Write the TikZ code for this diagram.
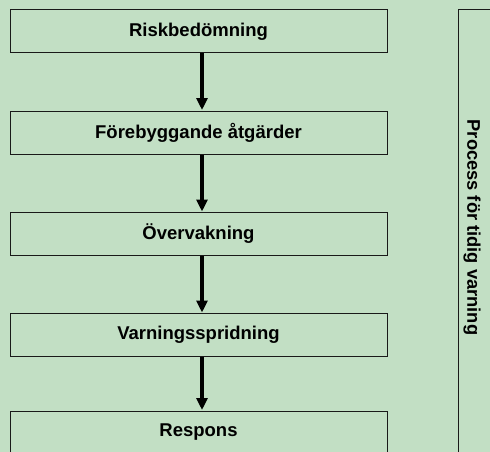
\documentclass[tikz,border=0pt]{standalone}
\usepackage{fontspec}
\setmainfont{Liberation Sans}
\usetikzlibrary{arrows.meta}
\definecolor{bggreen}{RGB}{194,223,196}
\definecolor{edge}{RGB}{25,25,25}
\tikzset{
  stepbox/.style={draw=edge, line width=1pt, minimum width=377pt, minimum height=43pt, inner sep=0pt,
    font=\fontsize{18.5pt}{20pt}\selectfont\bfseries, text=black},
  flowarrow/.style={line width=3.2pt, -{Triangle[width=11pt,length=12pt]}, black, shorten >=0.5pt},
  sidebox/.style={draw=edge, line width=1pt},
  sidelabel/.style={rotate=-90, font=\fontsize{18.3pt}{20pt}\selectfont\bfseries, text=black, inner sep=0pt}
}
\begin{document}
\begin{tikzpicture}[x=1pt,y=1pt]
\useasboundingbox (0,0) rectangle (490,-452);
\clip (0,0) rectangle (490,-452);
\fill[bggreen] (0,0) rectangle (490,-452);
\node[stepbox] (b1) at (198.5,-31.5) {Riskbedömning};
\node[stepbox] (b2) at (198.5,-132.5) {Förebyggande åtgärder};
\node[stepbox] (b3) at (198.5,-234) {Övervakning};
\node[stepbox] (b4) at (198.5,-335) {Varningsspridning};
\node[stepbox] (b5) at (198.5,-432.5) {Respons};
\draw[flowarrow] ([xshift=3.5pt]b1.south) -- ([xshift=3.5pt]b2.north);
\draw[flowarrow] ([xshift=3.5pt]b2.south) -- ([xshift=3.5pt]b3.north);
\draw[flowarrow] ([xshift=3.5pt]b3.south) -- ([xshift=3.5pt]b4.north);
\draw[flowarrow] ([xshift=3.5pt]b4.south) -- ([xshift=3.5pt]b5.north);
\node[sidebox, minimum width=50pt, minimum height=460pt, inner sep=0pt] (side) at (483,-240) {};
\node[sidelabel] (sidetext) at (472,-227.5) {Process för tidig varning};
\end{tikzpicture}
\end{document}
